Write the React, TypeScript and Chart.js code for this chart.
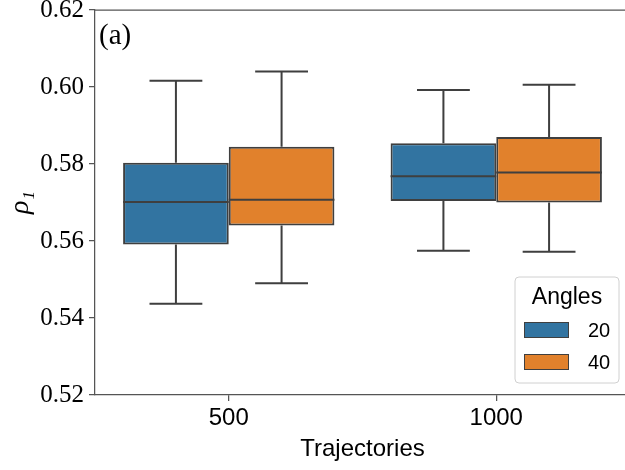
import React, { useEffect, useRef } from 'react';
import { Chart, registerables } from 'chart.js';

Chart.register(...registerables);

const categories = ['500', '1000'];
const hueLabels = ['20', '40'];
const hueColors = ['#3274a1', '#e1812c'];
const legendTitle = 'Angles';
const xTitle = 'Trajectories';
const yTitle = 'ρ₁';
const panelLabel = '(a)';

const low20 = [0.5437, 0.5575];
const q1_20 = [0.5591, 0.5704];
const med20 = [0.5701, 0.5768];
const q3_20 = [0.5803, 0.5854];
const high20 = [0.6016, 0.5992];

const low40 = [0.5490, 0.5572];
const q1_40 = [0.5640, 0.5700];
const med40 = [0.5707, 0.5778];
const q3_40 = [0.5845, 0.5870];
const high40 = [0.6040, 0.6006];

const yMin = 0.52;
const yMax = 0.62;
const yStep = 0.02;

const EDGE = '#3f3f3f';
const SPINE = '#555555';

const boxPlugin = {
  id: 'boxWhiskers',
  afterDatasetsDraw(chart: any) {
    const ctx = chart.ctx;
    const y = chart.scales.y;
    chart.data.datasets.forEach((ds: any, di: number) => {
      const meta = chart.getDatasetMeta(di);
      meta.data.forEach((bar: any, i: number) => {
        const { x, width } = bar.getProps(['x', 'width'], true);
        const st = ds.stats[i];
        const yLow = y.getPixelForValue(st.low);
        const yQ1 = y.getPixelForValue(st.q1);
        const yMed = y.getPixelForValue(st.med);
        const yQ3 = y.getPixelForValue(st.q3);
        const yHigh = y.getPixelForValue(st.high);
        const cap = width / 4;
        ctx.save();
        ctx.strokeStyle = EDGE;
        ctx.lineWidth = 2;
        ctx.beginPath();
        ctx.moveTo(x, yQ3);
        ctx.lineTo(x, yHigh);
        ctx.moveTo(x - cap, yHigh);
        ctx.lineTo(x + cap, yHigh);
        ctx.moveTo(x, yQ1);
        ctx.lineTo(x, yLow);
        ctx.moveTo(x - cap, yLow);
        ctx.lineTo(x + cap, yLow);
        ctx.moveTo(x - width / 2, yMed);
        ctx.lineTo(x + width / 2, yMed);
        ctx.stroke();
        ctx.restore();
      });
    });
  },
  afterDraw(chart: any) {
    const ctx = chart.ctx;
    const a = chart.chartArea;
    ctx.save();
    // top spine
    ctx.strokeStyle = SPINE;
    ctx.lineWidth = 1.25;
    ctx.beginPath();
    ctx.moveTo(a.left, a.top);
    ctx.lineTo(a.right, a.top);
    ctx.stroke();
    // panel label
    ctx.fillStyle = '#000';
    ctx.font = '29px "Liberation Serif"';
    ctx.textAlign = 'left';
    ctx.textBaseline = 'middle';
    ctx.fillText(panelLabel, a.left + 4, a.top + 26);
    // legend
    const lx = 515, ly = 277, lw = 104, lh = 106;
    ctx.beginPath();
    ctx.roundRect(lx, ly, lw, lh, 4);
    ctx.fillStyle = 'rgba(255,255,255,0.8)';
    ctx.fill();
    ctx.strokeStyle = '#d0d0d0';
    ctx.lineWidth = 1;
    ctx.stroke();
    ctx.fillStyle = '#000';
    ctx.textAlign = 'center';
    ctx.font = '23px "Liberation Sans"';
    ctx.fillText(legendTitle, lx + lw / 2, ly + 21);
    hueLabels.forEach((lab, i) => {
      const py = ly + 45 + i * 32;
      ctx.fillStyle = hueColors[i];
      ctx.fillRect(lx + 9, py, 45, 16);
      ctx.strokeStyle = EDGE;
      ctx.lineWidth = 1;
      ctx.strokeRect(lx + 9.5, py + 0.5, 44, 15);
      ctx.fillStyle = '#000';
      ctx.textAlign = 'left';
      ctx.font = '20px "Liberation Sans"';
      ctx.fillText(lab, lx + 73, py + 9);
    });
    ctx.restore();
  },
};

export default function App() {
  const ref = useRef<HTMLCanvasElement>(null);
  useEffect(() => {
    const mk = (lo: number[], a: number[], m: number[], b: number[], hi: number[]) =>
      categories.map((_, i) => ({ low: lo[i], q1: a[i], med: m[i], q3: b[i], high: hi[i] }));
    const statsAll = [mk(low20, q1_20, med20, q3_20, high20), mk(low40, q1_40, med40, q3_40, high40)];
    const chart = new Chart(ref.current!, {
      type: 'bar',
      data: {
        labels: categories,
        datasets: hueLabels.map((lab, di) => ({
          label: lab,
          data: statsAll[di].map((s) => [s.q1, s.q3]),
          stats: statsAll[di],
          backgroundColor: hueColors[di],
          borderColor: EDGE,
          borderWidth: 2,
          borderSkipped: false,
          categoryPercentage: 0.79,
          barPercentage: 1,
        })) as any,
      },
      options: {
        responsive: false,
        animation: false,
        devicePixelRatio: 1,
        layout: { padding: { left: 0, right: 10, top: 10, bottom: 0 } },
        plugins: { legend: { display: false }, tooltip: { enabled: false } },
        scales: {
          x: {
            type: 'category',
            offset: true,
            grid: { drawOnChartArea: false, drawTicks: true, tickLength: 6, color: SPINE, lineWidth: 1.25, offset: false },
            border: { display: true, color: SPINE, width: 1.25 },
            ticks: { font: { family: 'Liberation Sans', size: 24 }, color: '#000', padding: 3 },
            title: { display: true, text: xTitle, font: { family: 'Liberation Sans', size: 24 }, color: '#000', padding: { top: 0, bottom: 6 } },
            afterFit(s: any) { s.height = 75; s.paddingLeft = 0; s.paddingRight = 0; },
          },
          y: {
            min: yMin,
            max: yMax,
            ticks: { stepSize: yStep, callback: (v: any) => Number(v).toFixed(2), font: { family: 'Liberation Serif', size: 25 }, color: '#000', padding: 5 },
            grid: { drawOnChartArea: false, drawTicks: true, tickLength: 6, color: SPINE, lineWidth: 1.25 },
            border: { display: true, color: SPINE, width: 1.25 },
            title: { display: true, text: yTitle, font: { family: 'Liberation Serif', size: 28, style: 'italic' }, color: '#000', padding: { top: 4, bottom: 0 } },
            afterFit(s: any) { s.width = 95; s.paddingTop = 0; s.paddingBottom = 0; },
          },
        },
      } as any,
      plugins: [boxPlugin],
    });
    return () => chart.destroy();
  }, []);
  return (
    <div style={{ position: 'absolute', left: 0, top: 0, width: 625, height: 470, overflow: 'hidden', background: '#fff' }}>
      <canvas ref={ref} width={640} height={470} style={{ display: 'block' }} />
    </div>
  );
}
